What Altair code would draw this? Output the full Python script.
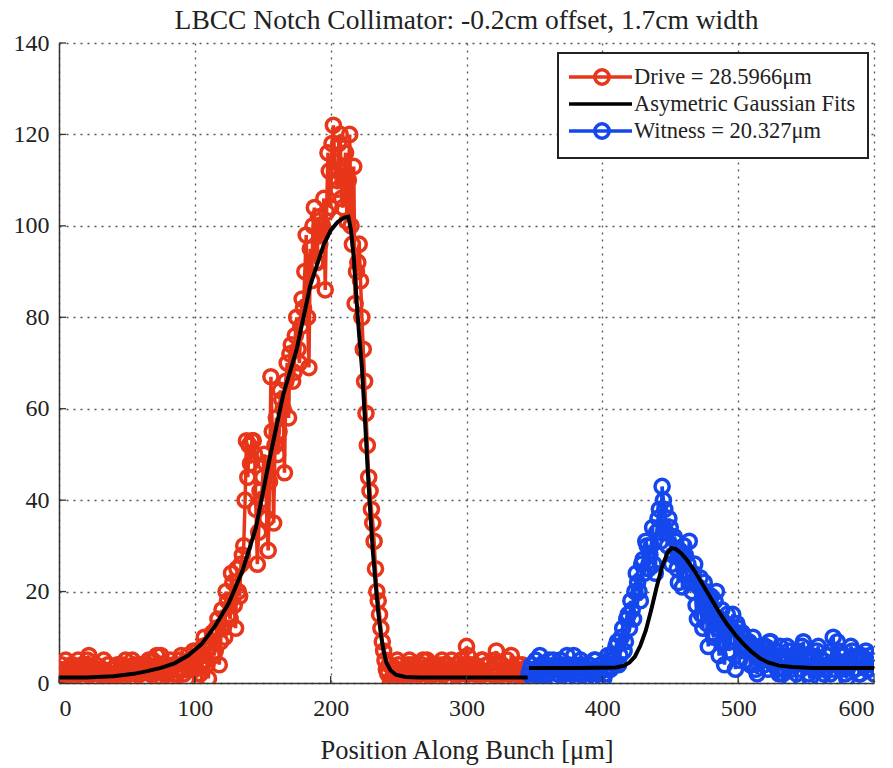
import altair as alt
import pandas as pd

# ---------------- data ----------------
title_text = "LBCC Notch Collimator: -0.2cm offset, 1.7cm width"
x_title = "Position Along Bunch [μm]"
drive_label = "Drive = 28.5966μm"
fit_label = "Asymetric Gaussian Fits"
witness_label = "Witness = 20.327μm"

x_ticks = [0, 100, 200, 300, 400, 500, 600]
y_ticks = [0, 20, 40, 60, 80, 100, 120, 140]

# drive samples at even positions 0..344
drive_x_even = list(range(0, 346, 2))
drive_y_even = [
    2, 4, 1, 3, 0, 4, 2, 5, 3, 1,
    4, 6, 2, 3, 1, 0, 3, 2, 4, 1,
    3, 2, 0, 4, 1, 3, 2, 5, 1, 3,
    2, 4, 1, 5, 3, 2, 6, 4, 1, 3,
    2, 5, 0, 4, 3, 6, 2, 1, 5, 4,
    3, 7, 2, 8, 5, 1, 9, 6, 12, 4,
    16, 10, 18, 14, 22, 12, 20, 26, 30, 53,
    52, 53, 50, 26, 42, 45, 48, 29, 67, 35,
    58, 55, 62, 46, 70, 72, 66, 76, 73, 78,
    82, 98, 69, 88, 104, 92, 96, 100, 86, 116,
    104, 122, 110, 118, 106, 112, 101, 120, 96, 83,
    92, 88, 73, 59, 45, 38, 31, 20, 15, 9,
    5, 2, 0, 3, 1, 4, 2, 0, 3, 5,
    4, 1, 3, 2, 5, 0, 3, 4, 2, 1,
    3, 5, 2, 4, 1, 0, 3, 2, 5, 4,
    8, 3, 1, 4, 2, 3, 5, 1, 4, 2,
    3, 7, 2, 4, 1, 5, 3, 2, 0, 4,
    2, 3, 1,
]
# drive samples at odd positions 1..345
drive_x_odd = list(range(1, 346, 2))
drive_y_odd = [
    3, 1, 5, 2, 4, 1, 3, 0, 4, 2,
    5, 3, 1, 4, 2, 3, 5, 1, 2, 3,
    1, 4, 3, 2, 5, 0, 3, 4, 2, 4,
    3, 1, 4, 2, 5, 1, 3, 6, 2, 4,
    3, 1, 4, 2, 5, 3, 4, 6, 3, 7,
    5, 2, 6, 10, 4, 8, 11, 7, 14, 9,
    12, 20, 15, 24, 17, 25, 19, 28, 40, 45,
    48, 53, 38, 33, 40, 50, 36, 44, 55, 52,
    50, 64, 60, 66, 58, 74, 68, 80, 70, 84,
    90, 80, 95, 100, 92, 102, 98, 106, 103, 112,
    118, 114, 108, 120, 104, 116, 110, 100, 113, 90,
    96, 80, 66, 52, 42, 35, 25, 18, 12, 7,
    3, 4, 1, 2, 5, 0, 3, 2, 4, 1,
    3, 2, 0, 4, 1, 5, 2, 3, 0, 4,
    2, 4, 1, 3, 5, 2, 4, 0, 3, 2,
    6, 4, 2, 0, 3, 5, 2, 4, 1, 3,
    5, 2, 4, 0, 3, 2, 6, 1, 3, 2,
    4, 0, 3,
]

# witness samples at even positions 346..600
witness_x_even = list(range(346, 601, 2))
witness_y_even = [
    2, 4, 0, 3, 6, 1, 4, 2, 3, 5,
    1, 3, 4, 2, 6, 3, 0, 4, 2, 5,
    3, 1, 4, 2, 5, 0, 3, 4, 2, 6,
    3, 5, 8, 4, 10, 7, 14, 12, 16, 20,
    22, 18, 27, 31, 25, 30, 26, 33, 38, 43,
    38, 30, 34, 28, 31, 22, 27, 30, 24, 31,
    20, 26, 14, 23, 12, 20, 8, 19, 10, 20,
    6, 16, 4, 15, 9, 15, 3, 12, 8, 10,
    5, 9, 4, 8, 2, 7, 5, 8, 3, 9,
    4, 7, 2, 6, 3, 8, 1, 5, 4, 7,
    3, 9, 5, 2, 6, 4, 7, 1, 5, 3,
    6, 2, 10, 5, 7, 3, 6, 1, 4, 7,
    3, 6, 2, 5, 7, 3, 5, 2,
]
# witness samples at odd positions 347..599
witness_x_odd = list(range(347, 600, 2))
witness_y_odd = [
    3, 1, 5, 2, 4, 0, 3, 5, 1, 4,
    2, 5, 3, 1, 4, 2, 6, 3, 1, 4,
    2, 4, 0, 3, 5, 2, 4, 1, 3, 5,
    6, 4, 9, 6, 12, 9, 15, 18, 14, 24,
    20, 26, 24, 30, 28, 34, 24, 36, 31, 40,
    33, 36, 26, 32, 25, 29, 21, 28, 26, 22,
    24, 17, 21, 15, 22, 13, 17, 11, 18, 12,
    14, 9, 13, 7, 12, 10, 13, 5, 11, 7,
    8, 4, 10, 3, 6, 8, 4, 6, 9, 5,
    6, 3, 8, 2, 5, 7, 3, 6, 2, 5,
    8, 4, 6, 1, 5, 3, 8, 4, 2, 6,
    4, 7, 3, 9, 4, 6, 2, 5, 8, 3,
    5, 2, 6, 4, 3, 6, 4,
]

drive_fit_x = [0, 20, 40, 55, 65, 75, 85, 95, 105, 115, 125, 135, 145, 155, 165,
               175, 185, 195, 200, 205, 210, 213, 215, 217, 219, 221, 223, 225,
               227, 229, 231, 233, 235, 237, 239, 241, 244, 248, 255, 265, 345]
drive_fit_y = [1.2, 1.2, 1.5, 2.0, 2.6, 3.3, 4.3, 6.0, 8.5, 12.5, 17.5, 24.5, 34,
               49, 63, 73, 87, 96, 99, 100.8, 101.8, 102, 99, 93, 84, 76, 69, 59,
               48, 38, 29, 22, 15.5, 10.5, 7, 4.5, 2.8, 1.8, 1.3, 1.2, 1.2]

witness_fit_x = [346, 380, 410, 416, 420, 424, 428, 432, 436, 440, 444, 448, 451,
                 454, 458, 462, 468, 474, 480, 486, 492, 498, 504, 510, 516, 522,
                 530, 540, 555, 600]
witness_fit_y = [3.3, 3.3, 3.4, 3.8, 4.5, 5.8, 8.2, 11.5, 16, 21, 25.5, 28.5, 29.5,
                 29.3, 28.4, 27, 24.5, 21.5, 18.5, 15.5, 12.8, 10.5, 8.5, 6.8, 5.4,
                 4.5, 3.8, 3.5, 3.3, 3.3]

# ---------------- styling ----------------
RED = "#e8361a"
BLUE = "#1448ec"
FONT = "Liberation Serif"
TEXT = "#222222"

drive_df = pd.DataFrame({"x": drive_x_even + drive_x_odd,
                         "y": drive_y_even + drive_y_odd}).sort_values("x")
witness_df = pd.DataFrame({"x": witness_x_even + witness_x_odd,
                           "y": witness_y_even + witness_y_odd}).sort_values("x")
fit_df = pd.concat([
    pd.DataFrame({"x": drive_fit_x, "y": drive_fit_y, "s": "drive"}),
    pd.DataFrame({"x": witness_fit_x, "y": witness_fit_y, "s": "witness"}),
])
legend_df = pd.DataFrame({"label": [drive_label, fit_label, witness_label]})
xtick_df = pd.DataFrame({"x": x_ticks})
ytick_df = pd.DataFrame({"y": y_ticks})

X = alt.X("x:Q", scale=alt.Scale(domain=[0, 600], nice=False, zero=False),
          axis=alt.Axis(values=x_ticks, title=x_title, labelPadding=13,
                        titleY=75, titleBaseline="alphabetic", format="d"))
Y = alt.Y("y:Q", scale=alt.Scale(domain=[0, 140], nice=False),
          axis=alt.Axis(values=y_ticks, title=None, labelPadding=10, format="d"))

line_kw = dict(strokeWidth=3.5, clip=True)
pt_kw = dict(shape="circle", filled=False, size=200, strokeWidth=3.5, opacity=1, clip=True)

drive_line = alt.Chart(drive_df).mark_line(color=RED, **line_kw).encode(x=X, y=Y)
drive_pts = alt.Chart(drive_df).mark_point(color=RED, **pt_kw).encode(x=X, y=Y)
wit_line = alt.Chart(witness_df).mark_line(color=BLUE, **line_kw).encode(x=X, y=Y)
wit_pts = alt.Chart(witness_df).mark_point(color=BLUE, **pt_kw).encode(x=X, y=Y)
fits = alt.Chart(fit_df).mark_line(color="black", strokeWidth=4).encode(
    x=X, y=Y, detail="s:N")

xticks = alt.Chart(xtick_df).mark_rule(color="#333", strokeWidth=1.3).encode(
    x=X, y=alt.value(640), y2=alt.value(633))
yticks = alt.Chart(ytick_df).mark_rule(color="#333", strokeWidth=1.3).encode(
    y=Y, x=alt.value(0), x2=alt.value(7))

circ_path = "M-1.3,0H5.0M1.28,0A0.72,0.72 0 1,1 2.72,0A0.72,0.72 0 1,1 1.28,0"
line_path = "M-1.3,0H5.0"
leg = alt.Legend(title=None, orient="none", legendX=499, legendY=10,
                 symbolSize=400, symbolStrokeWidth=3.5, symbolOpacity=1,
                 labelOffset=40, labelFont=FONT, labelFontSize=22.5,
                 labelColor=TEXT, rowPadding=0, padding=12,
                 strokeColor="#222", fillColor="white", labelLimit=400)
legend_layer = alt.Chart(legend_df).mark_point(opacity=0, filled=False).encode(
    color=alt.Color("label:N", scale=alt.Scale(
        domain=[drive_label, fit_label, witness_label], range=[RED, "black", BLUE]),
        legend=leg),
    shape=alt.Shape("label:N", scale=alt.Scale(
        domain=[drive_label, fit_label, witness_label],
        range=[circ_path, line_path, circ_path]), legend=leg),
)

chart = alt.layer(
    drive_line, drive_pts, wit_line, wit_pts, fits, xticks, yticks, legend_layer
).properties(
    width=815, height=640,
    title=alt.TitleParams(title_text, font=FONT, fontSize=27.5, fontWeight="normal",
                          color=TEXT, anchor="middle", offset=12, dy=15),
    padding={"left": 59, "top": 43, "right": 19, "bottom": 85},
    autosize=alt.AutoSizeParams(type="none"),
).configure_axis(
    labelFont=FONT, labelFontSize=24, labelColor=TEXT,
    titleFont=FONT, titleFontSize=26.5, titleFontWeight="normal", titleColor=TEXT,
    grid=True, gridColor="#555555", gridDash=[2, 5], gridWidth=1.3,
    domainColor="#333333", domainWidth=1.5, ticks=False,
).configure_legend(strokeWidth=2).configure_view(stroke=None)

chart.save("out.html", embed_options={"renderer": "svg", "actions": False})
